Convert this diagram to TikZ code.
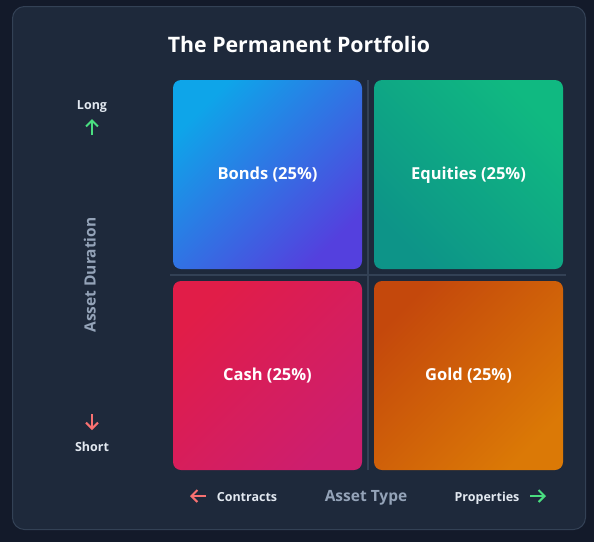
\documentclass[tikz,border=0pt]{standalone}
\usepackage{fontspec}
\setmainfont{Open Sans}
\usetikzlibrary{arrows.meta, positioning}
\definecolor{pagebg}{HTML}{131A2A}
\definecolor{cardbg}{HTML}{1E293B}
\definecolor{cardline}{HTML}{334155}
\definecolor{axisgray}{HTML}{94A3B8}
\definecolor{labelgray}{HTML}{E2E8F0}
\definecolor{upgreen}{HTML}{4ADE80}
\definecolor{downred}{HTML}{F87171}
\definecolor{bondsA}{HTML}{0EA5E9}
\definecolor{bondsB}{HTML}{5440DE}
\definecolor{equitiesA}{HTML}{10B981}
\definecolor{equitiesB}{HTML}{0D9488}
\definecolor{cashA}{HTML}{E11D48}
\definecolor{cashB}{HTML}{CD1E6E}
\definecolor{goldA}{HTML}{C4480C}
\definecolor{goldB}{HTML}{DB7906}

\begin{document}
\begin{tikzpicture}[x=1pt, y=-1pt,
  quad/.style={rounded corners=8pt, minimum width=189pt, minimum height=189pt, inner sep=0pt,
    text=white, font=\fontsize{16.5}{20}\selectfont\bfseries, text height=1.95ex, text depth=0.1ex},
  endlabel/.style={text=labelgray, font=\fontsize{12.5}{15}\selectfont\bfseries, inner sep=1pt,
    text height=1.45ex, text depth=0.1ex},
  axislabel/.style={text=axisgray, font=\fontsize{15.5}{18}\selectfont\bfseries, inner sep=1pt,
    text height=1.45ex, text depth=0.1ex},
  tip/.style={line width=2pt, -{Straight Barb[length=6pt, width=12pt, line width=2pt]}}
]
  \useasboundingbox (0,0) rectangle (594,542);
  \fill[pagebg] (0,0) rectangle (594,542);
  \draw[cardline, fill=cardbg, line width=1pt, rounded corners=12pt] (12.5,6.5) rectangle (585.5,529.5);

  \node[text=white, font=\fontsize{21.3}{25}\selectfont\bfseries] (title) at (299,44) {The Permanent Portfolio};

  % grid lines between the quadrants
  \coordinate (vtop) at (368,80);
  \coordinate (vbot) at (368,470);
  \coordinate (hleft) at (170,275);
  \coordinate (hright) at (566,275);
  \draw[cardline, line width=1.5pt] (vtop) -- (vbot);
  \draw[cardline, line width=1.5pt] (hleft) -- (hright);

  % the four assets
  \node[quad, top color=bondsA, bottom color=bondsB, shading angle=45] (bonds) at (267.5,174.5) {Bonds (25\%)};
  \node[quad, top color=equitiesA, bottom color=equitiesB, shading angle=-45] (equities) at (468.5,174.5) {Equities (25\%)};
  \node[quad, top color=cashA, bottom color=cashB, shading angle=45] (cash) at (267.5,375.5) {Cash (25\%)};
  \node[quad, top color=goldA, bottom color=goldB, shading angle=45] (gold) at (468.5,375.5) {Gold (25\%)};

  % vertical axis
  \node[endlabel] (long) at (92,106) {Long};
  \node[endlabel] (short) at (92,448) {Short};
  \node[axislabel, rotate=90] (duration) at (92,275) {Asset Duration};
  \draw[tip, upgreen] (92,135) -- (92,119);
  \draw[tip, downred] (92,414) -- (92,430);

  % horizontal axis
  \node[endlabel] (contracts) at (247,498) {Contracts};
  \node[endlabel] (properties) at (487,498) {Properties};
  \node[axislabel] (assettype) at (366,498) {Asset Type};
  \draw[tip, downred] (206,496) -- (190,496);
  \draw[tip, upgreen] (530,496) -- (546,496);
\end{tikzpicture}
\end{document}
